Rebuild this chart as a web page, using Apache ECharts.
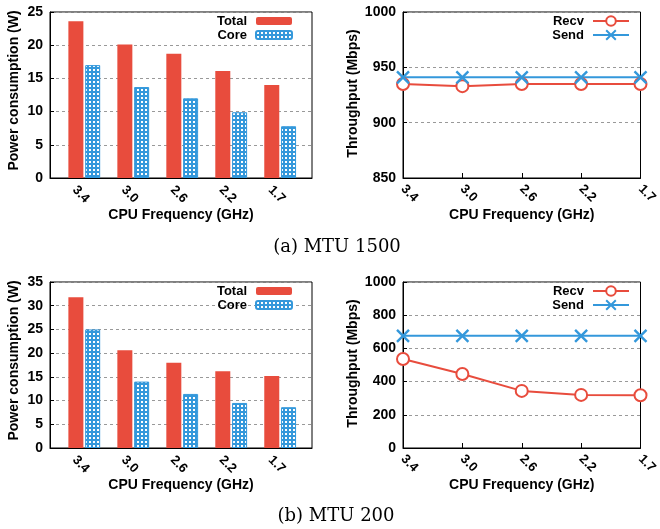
<!DOCTYPE html>
<html>
<head>
<meta charset="utf-8">
<script src="https://cdn.jsdelivr.net/npm/echarts@6/dist/echarts.min.js"></script>
<style>html,body{margin:0;padding:0;background:#fff;}#c{width:660px;height:529px;}</style>
</head>
<body>
<div id="c"></div>
<script>
// ---- data ----
var freq = ['3.4', '3.0', '2.6', '2.2', '1.7'];
var total1500 = [23.6, 20.1, 18.7, 16.1, 14.0];
var core1500 = [17.0, 13.7, 12.0, 9.9, 7.8];
var recv1500 = [935, 933, 935, 935, 935];
var send1500 = [941, 941, 941, 941, 941];
var total200 = [31.8, 20.6, 18.0, 16.2, 15.2];
var core200 = [25.0, 14.0, 11.4, 9.5, 8.6];
var recv200 = [536, 446, 344, 320, 318];
var send200 = [676, 676, 676, 676, 676];
var powerTicks1500 = [0, 5, 10, 15, 20, 25];
var powerTicks200 = [0, 5, 10, 15, 20, 25, 30, 35];
var thrTicks1500 = [850, 900, 950, 1000];
var thrTicks200 = [0, 200, 400, 600, 800, 1000];

var RED = '#e84c3d', BLUE = '#3498db';
var FONT = "'Liberation Sans', Arial, sans-serif";

// hatch pattern for Core bars
var cv = document.createElement('canvas');
cv.width = 4; cv.height = 4;
var cx = cv.getContext('2d');
cx.fillStyle = BLUE; cx.fillRect(0, 0, 4, 4);
cx.fillStyle = '#ffffff';
[[1,1],[2,1],[1,2],[2,2]].forEach(function (p) { cx.fillRect(p[0], p[1], 1, 1); });
var hatch = { image: cv, repeat: 'repeat' };

var grids = [
  { left: 50, top: 12, width: 262, height: 166 },
  { left: 403, top: 12, width: 243, height: 166 },
  { left: 50, top: 282, width: 262, height: 166 },
  { left: 403, top: 282, width: 243, height: 166 }
].map(function (g) {
  g.show = true; g.borderColor = '#000'; g.borderWidth = 1; g.containLabel = false;
  return g;
});

function xBar(gi) {
  return {
    type: 'value', gridIndex: gi, min: -0.7, max: 4.65,
    name: 'CPU Frequency (GHz)', nameLocation: 'middle', nameGap: 30,
    nameTextStyle: { fontFamily: FONT, fontWeight: 'bold', fontSize: 14, color: '#000' },
    axisLine: { show: true, onZero: false, lineStyle: { color: '#000', width: 1 } },
    axisTick: { show: false },
    splitLine: { show: false },
    axisLabel: {
      customValues: [-0.2, 0.8, 1.8, 2.8, 3.8],
      rotate: -45, margin: 10,
      fontFamily: FONT, fontWeight: 'bold', fontSize: 13, color: '#000',
      formatter: function (v) { return freq[Math.round(v + 0.2)]; }
    }
  };
}
function xLine(gi) {
  return {
    type: 'category', gridIndex: gi, data: freq, boundaryGap: false,
    name: 'CPU Frequency (GHz)', nameLocation: 'middle', nameGap: 30,
    nameTextStyle: { fontFamily: FONT, fontWeight: 'bold', fontSize: 14, color: '#000' },
    axisLine: { show: true, onZero: false, lineStyle: { color: '#000', width: 1 } },
    axisTick: { show: true, inside: true, length: 5, lineStyle: { color: '#000' } },
    splitLine: { show: false },
    axisLabel: {
      rotate: -45, margin: 9,
      fontFamily: FONT, fontWeight: 'bold', fontSize: 13, color: '#000'
    }
  };
}
function yAxis(gi, ticks, name, gap, pad) {
  return {
    type: 'value', gridIndex: gi, min: ticks[0], max: ticks[ticks.length - 1],
    interval: ticks[1] - ticks[0],
    name: name, nameLocation: 'middle', nameGap: gap,
    nameTextStyle: { fontFamily: FONT, fontWeight: 'bold', fontSize: 14, color: '#000', padding: pad },
    axisLine: { show: true, onZero: false, lineStyle: { color: '#000', width: 1 } },
    axisTick: { show: true, inside: true, length: 4, lineStyle: { color: '#000' } },
    splitLine: { show: true, lineStyle: { color: '#999', type: [3, 3], width: 1 } },
    axisLabel: { margin: 7, fontFamily: FONT, fontWeight: 'bold', fontSize: 14, color: '#000',
      formatter: function (v) { return String(v); } }
  };
}

function barSeries(name, vals, gi, isCore) {
  return {
    type: 'bar', name: name, xAxisIndex: gi, yAxisIndex: gi,
    data: vals.map(function (v, i) { return [i, v]; }),
    barWidth: 15, barGap: '12%',
    itemStyle: isCore ? { color: hatch, borderColor: BLUE, borderWidth: 1 } : { color: RED },
    emphasis: { disabled: true }
  };
}
var crossPath = 'path://M0,0L10,10M10,0L0,10';
function lineSeries(name, vals, gi, isSend) {
  var c = isSend ? BLUE : RED;
  return {
    type: 'line', name: name, xAxisIndex: gi, yAxisIndex: gi, data: vals,
    color: c,
    symbol: isSend ? crossPath : 'emptyCircle',
    symbolSize: isSend ? 12 : 12,
    showAllSymbol: true,
    lineStyle: { color: c, width: 2 },
    itemStyle: { color: c, borderColor: c, borderWidth: isSend ? 2.4 : 2.2 },
    emphasis: { disabled: true }
  };
}

function legend(names, right, top, ih) {
  return {
    data: names, orient: 'vertical', right: right, top: top, align: 'right',
    padding: 0, itemGap: 0, itemWidth: 36, itemHeight: ih,
    selectedMode: false,
    textStyle: { fontFamily: FONT, fontWeight: 'bold', fontSize: 13, color: '#000', lineHeight: 14, padding: [0, 4, 0, 0] }
  };
}

var option = {
  animation: false,
  backgroundColor: '#fff',
  grid: grids,
  xAxis: [xBar(0), xLine(1), xBar(2), xLine(3)],
  yAxis: [
    yAxis(0, powerTicks1500, 'Power consumption (W)', 29, [0, 0, 0, 9]),
    yAxis(1, thrTicks1500, 'Throughput (Mbps)', 43, [0, 0, 0, 3]),
    yAxis(2, powerTicks200, 'Power consumption (W)', 29, [0, 0, 0, 9]),
    yAxis(3, thrTicks200, 'Throughput (Mbps)', 43, [0, 0, 0, 3])
  ],
  legend: [
    legend(['Total', 'Core'], 367, 14, 8),
    legend(['Recv', 'Send'], 30, 14, 12),
    legend(['Total', 'Core'], 367, 284, 8),
    legend(['Recv', 'Send'], 30, 284, 12)
  ],
  title: [
    { text: '(a) MTU 1500', left: 337, top: 238, textAlign: 'center', padding: 0,
      textStyle: { fontFamily: "'DejaVu Serif', serif", fontWeight: 'normal', fontSize: 18, color: '#000' } },
    { text: '(b) MTU 200', left: 336, top: 507, textAlign: 'center', padding: 0,
      textStyle: { fontFamily: "'DejaVu Serif', serif", fontWeight: 'normal', fontSize: 18, color: '#000' } }
  ],
  series: [
    barSeries('Total', total1500, 0, false),
    barSeries('Core', core1500, 0, true),
    lineSeries('Recv', recv1500, 1, false),
    lineSeries('Send', send1500, 1, true),
    barSeries('Total', total200, 2, false),
    barSeries('Core', core200, 2, true),
    lineSeries('Recv', recv200, 3, false),
    lineSeries('Send', send200, 3, true)
  ]
};
var chart = echarts.init(document.getElementById('c'), null, { renderer: 'canvas' });
chart.setOption(option);
</script>
</body>
</html>
